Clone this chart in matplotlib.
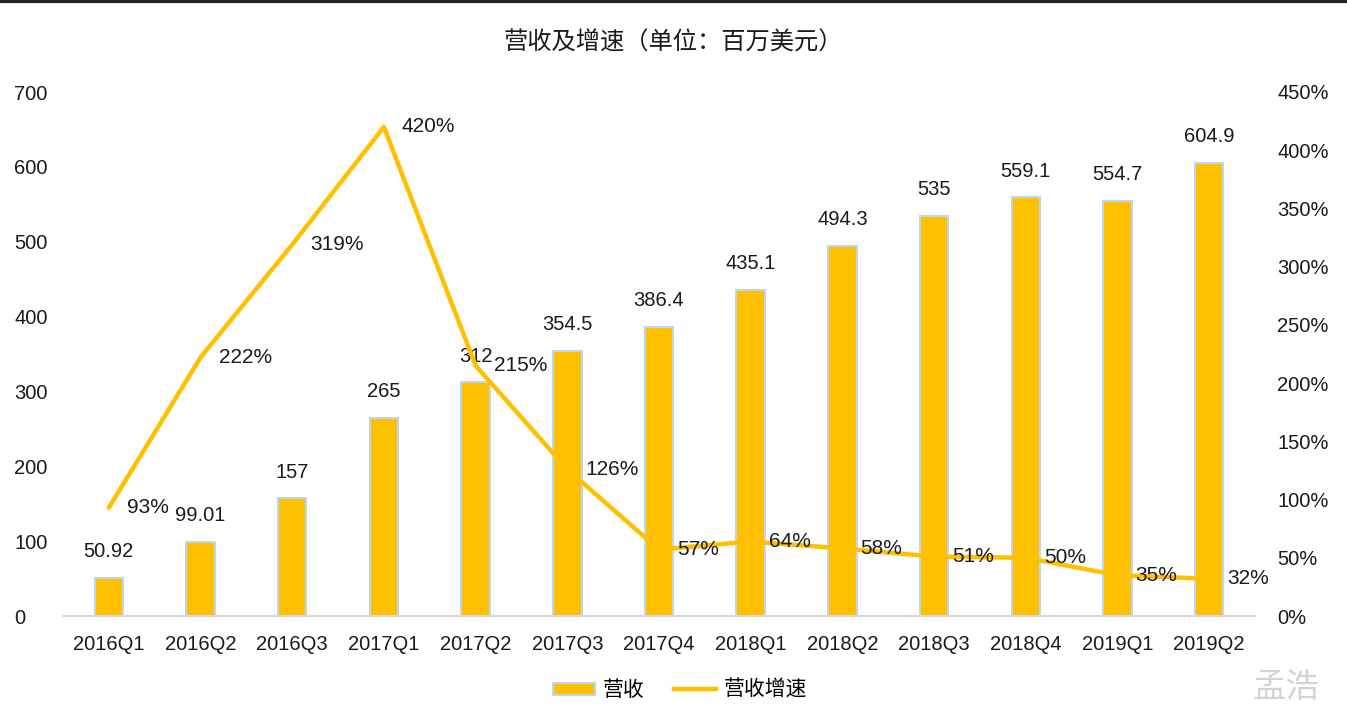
import matplotlib
matplotlib.use("Agg")
import matplotlib.pyplot as plt
from matplotlib.lines import Line2D
from matplotlib.patches import Patch
from matplotlib.ticker import FuncFormatter, MultipleLocator

plt.rcParams['font.family'] = ['Liberation Sans', 'Noto Sans CJK SC', 'DejaVu Sans']

quarters = ["2016Q1", "2016Q2", "2016Q3", "2017Q1", "2017Q2", "2017Q3", "2017Q4",
            "2018Q1", "2018Q2", "2018Q3", "2018Q4", "2019Q1", "2019Q2"]
revenue = [50.92, 99.01, 157, 265, 312, 354.5, 386.4, 435.1, 494.3, 535, 559.1, 554.7, 604.9]
revenue_labels = ["50.92", "99.01", "157", "265", "312", "354.5", "386.4", "435.1",
                  "494.3", "535", "559.1", "554.7", "604.9"]
growth = [93, 222, 319, 420, 215, 126, 57, 64, 58, 51, 50, 35, 32]

gold = "#FFC000"
edge = "#BDD7EE"
text_c = "#1a1a1a"
fs = 14.5

fig = plt.figure(figsize=(13.47, 7.2), dpi=100)
ax = fig.add_axes([63/1347, 1 - 616/720, (1255 - 63)/1347, (616 - 92)/720])
x = list(range(len(quarters)))
ax.bar(x, revenue, width=0.31, color=gold, edgecolor=edge, linewidth=1.5, zorder=2)
ax.set_xlim(-0.5, len(quarters) - 0.5)
ax.set_ylim(0, 700)
ax.yaxis.set_major_locator(MultipleLocator(100))
for s in ["top", "right", "left"]:
    ax.spines[s].set_visible(False)
ax.spines["bottom"].set_color("#d9d9d9")
ax.spines["bottom"].set_linewidth(1.5)
ax.set_xticks(x)
ax.set_xticklabels(quarters)
ax.tick_params(axis='x', length=0, pad=14, labelsize=fs, colors=text_c)
ax.tick_params(axis='y', length=0, pad=35, labelsize=fs, colors=text_c)
for lab in ax.get_yticklabels():
    lab.set_horizontalalignment('left')

for xi, v, lab in zip(x, revenue, revenue_labels):
    ax.annotate(lab, (xi, v), xytext=(0, 19), textcoords='offset points',
                ha='center', va='center', fontsize=fs, color=text_c, zorder=5)

ax2 = ax.twinx()
ax2.plot(x, growth, color=gold, linewidth=3.2, zorder=3, solid_capstyle='round')
ax2.set_ylim(0, 450)
ax2.yaxis.set_major_locator(MultipleLocator(50))
ax2.yaxis.set_major_formatter(FuncFormatter(lambda v, p: f"{int(v)}%"))
for s in ["top", "right", "left", "bottom"]:
    ax2.spines[s].set_visible(False)
ax2.tick_params(axis='y', length=0, pad=16, labelsize=fs, colors=text_c)
for xi, g in zip(x, growth):
    ax2.annotate(f"{g}%", (xi, g), xytext=(13, 0), textcoords='offset points',
                 ha='left', va='center', fontsize=15, color=text_c, zorder=5)

fig.text(0.5, 1 - 43/720, "营收及增速（单位：百万美元）", ha='center', va='center',
         fontsize=17.5, color=text_c, family=['Noto Sans CJK SC', 'DejaVu Sans'])

handles = [Patch(facecolor=gold, edgecolor=edge, linewidth=1.5),
           Line2D([0], [0], color=gold, linewidth=3.2)]
fig.legend(handles, ["营收", "营收增速"], loc='center', bbox_to_anchor=(0.505, 1 - 690/720),
           ncol=2, frameon=False, handlelength=2.0, handleheight=0.5,
           columnspacing=1.4, handletextpad=0.4,
           prop={'family': ['Noto Sans CJK SC', 'DejaVu Sans'], 'size': 15})

fig.text(1 - 28/1347, 1 - 688/720, "孟浩", ha='right', va='center', fontsize=24,
         color="#c8c8c8", family=['Noto Sans CJK SC', 'DejaVu Sans'], alpha=0.8)

fig.add_artist(Line2D([0, 1], [0.998, 0.998], color="#222222", linewidth=3,
                      transform=fig.transFigure))

fig.savefig("out.png", dpi=100)
